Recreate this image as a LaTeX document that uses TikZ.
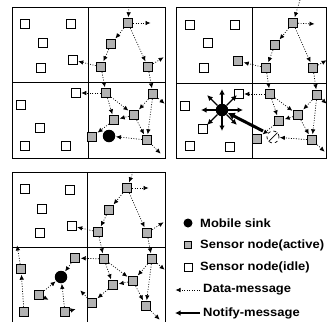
\documentclass[tikz,border=0pt]{standalone}
\usepackage{fontspec}
\setmainfont{Liberation Sans}
\usetikzlibrary{arrows.meta}
\begin{document}
\begin{tikzpicture}[x=1pt,y=-1pt,
  frame/.style={line width=1pt},
  idle/.style={draw,line width=1pt,fill=white,minimum size=8.5pt,inner sep=0pt},
  active/.style={draw,line width=1.4pt,fill=gray!60,minimum size=9pt,inner sep=0pt},
  sink/.style={circle,fill=black,minimum size=12.5pt,inner sep=0pt},
  oldsink/.style={circle,draw,dashed,line width=0.7pt,minimum size=12pt,inner sep=0pt},
  data/.style={line width=0.7pt,dash pattern=on 0.9pt off 1.6pt,-{Latex[length=5pt,width=4.5pt]},shorten >=0.5pt},
  notify/.style={line width=1.2pt,-{Latex[length=5.5pt,width=5.5pt]}},
  thicknotify/.style={line width=3pt,-{Latex[length=7pt,width=8pt]}},
  lab/.style={anchor=west,font=\fontsize{12}{14}\selectfont\bfseries,inner sep=0pt,xscale=1.08}]
\useasboundingbox (0,0) rectangle (327,322);

% ---------- Panel 1 ----------
\draw[frame] (12,7) rectangle (165,158);
\draw[frame] (88,7) -- (88,158);
\draw[frame] (12,82) -- (165,82);
\foreach \n/\p in {a1/{25,24},a2/{71,24},a3/{43,43},a4/{41,68},a5/{73,60},a6/{76,93},a7/{21,105},a8/{40,128},a9/{25,146},a10/{66,146}}
  \node[idle] (\n) at (\p) {};
\foreach \n/\p in {ab/{128,23},ac/{111,44},ad/{101,67},ae/{148,67},af/{106,93},ag/{153,94},ah/{114,120},ai/{134,115},aj/{92,137},ak/{147,140}}
  \node[active] (\n) at (\p) {};
\node[sink] (as) at (109,136) {};
\coordinate (at) at (129,7);
\coordinate (ar1) at (151,23);
\coordinate (ar2) at (164,57);
\coordinate (ar3) at (165,104);
\coordinate (ar4) at (161,154);
\draw[data] (at) -- (ab);
\draw[data] (ab) -- (ar1);
\draw[data] (ab) -- (ac);
\draw[data] (ab) -- (ae);
\draw[data] (ac) -- (ad);
\draw[data] (ad) -- (a5);
\draw[data] (ad) -- (af);
\draw[data] (ae) -- (ag);
\draw[data] (ae) -- (ar2);
\draw[data] (af) -- (a6);
\draw[data] (af) -- (ah);
\draw[data] (af) -- (ai);
\draw[data] (ag) -- (ai);
\draw[data] (ag) -- (ak);
\draw[data] (ag) -- (ar3);
\draw[data] (ai) -- (ah);
\draw[data] (ai) -- (ak);
\draw[data] (ah) -- (aj);
\draw[data] (ak) -- (as);
\draw[data] (ak) -- (ar4);

% ---------- Panel 2 ----------
\draw[frame] (176,7) rectangle (326.5,158);
\draw[frame] (252,7) -- (252,158);
\draw[frame] (176,83) -- (326.5,83);
\foreach \n/\p in {b1/{190,25},b2/{235,25},b3/{208,43},b4/{204,68},b6/{239,94},b7/{185,106},b8/{203,129},b9/{190,146},b10/{230,147}}
  \node[idle] (\n) at (\p) {};
\foreach \n/\p in {bx/{238,61},bb/{293,23},bc/{275,45},bd/{266,68},be/{313,68},bf/{270,94},bg/{317,95},bh/{279,121},bi/{298,115},bj/{257,139},bk/{312,140}}
  \node[active] (\n) at (\p) {};
\node[sink] (bs) at (222,110) {};
\node[oldsink] (bo) at (273,137) {};
\draw[line width=0.7pt] (bo.north east) -- (bo.south west);
\coordinate (bt) at (300,0);
\coordinate (br1) at (315,24);
\coordinate (br2) at (327,60);
\coordinate (br3) at (327,104);
\coordinate (br4) at (325,152);
\draw[data] (bt) -- (bb);
\draw[data] (bb) -- (br1);
\draw[data] (bb) -- (bc);
\draw[data] (bb) -- (be);
\draw[data] (bc) -- (bd);
\draw[data] (bd) -- (bx);
\draw[data] (bd) -- (bf);
\draw[data] (be) -- (bg);
\draw[data] (be) -- (br2);
\draw[data] (bf) -- (b6);
\draw[data] (bf) -- (bh);
\draw[data] (bf) -- (bi);
\draw[data] (bg) -- (bi);
\draw[data] (bg) -- (bk);
\draw[data] (bg) -- (br3);
\draw[data] (bi) -- (bh);
\draw[data] (bi) -- (bk);
\draw[data] (bh) -- (bj);
\draw[data] (bk) -- (bo);
\draw[data] (bk) -- (br4);
\foreach \a in {0,45,90,135,180,225,270,315}
  \draw[notify] (bs) -- ++(\a:21);
\coordinate (bm) at (263,131);
\draw[thicknotify] (bm) -- (bs);

% ---------- Panel 3 ----------
\draw[frame] (12,172) -- (12,322) (165,172) -- (165,322) (12,172) -- (165,172);
\draw[frame] (87,172) -- (87,322);
\draw[frame] (12,247) -- (165,247);
\foreach \n/\p in {c1/{25,189},c2/{70,190},c3/{42,209},c4/{40,233},c5/{72,226}}
  \node[idle] (\n) at (\p) {};
\foreach \n/\p in {cb/{127,188},cc/{109,210},cd/{98,232},ce/{147,233},cf/{104,259},cg/{152,259},ci/{133,281},ch/{113,285},cj/{92,303},ck/{146,306},
  cfa/{75,258},cga/{21,269},cha/{39,295},cia/{24,312},cja/{65,312}}
  \node[active] (\n) at (\p) {};
\node[sink] (cs) at (61,277) {};
\coordinate (ct) at (133,172);
\coordinate (cr1) at (149,188);
\coordinate (cr2) at (164,222);
\coordinate (cr3) at (165,270);
\coordinate (cr4) at (160,320);
\coordinate (cu) at (17,245);
\coordinate (cha2) at (49,300);
\coordinate (cja2) at (76,309);
\coordinate (cj2) at (80,290);
\draw[data] (ct) -- (cb);
\draw[data] (cb) -- (cr1);
\draw[data] (cb) -- (cc);
\draw[data] (cb) -- (ce);
\draw[data] (cc) -- (cd);
\draw[data] (cd) -- (c5);
\draw[data] (cd) -- (cf);
\draw[data] (ce) -- (cg);
\draw[data] (ce) -- (cr2);
\draw[data] (cf) -- (cfa);
\draw[data] (cf) -- (ch);
\draw[data] (cf) -- (ci);
\draw[data] (cg) -- (ci);
\draw[data] (cg) -- (ck);
\draw[data] (cg) -- (cr3);
\draw[data] (ci) -- (ch);
\draw[data] (ci) -- (ck);
\draw[data] (ch) -- (cj);
\draw[data] (ck) -- (cr4);
\draw[data] (cj) -- (cj2);
\draw[data] (cfa) -- (cs);
\draw[data] (cha) -- (cs);
\draw[data] (cja) -- (cs);
\draw[data] (cga) -- (cu);
\draw[data] (cia) -- (cga);
\draw[data] (cha) -- (cha2);
\draw[data] (cja) -- (cja2);

% ---------- Legend ----------
\node[sink,minimum size=9pt] (ls) at (188,223) {};
\node[lab] (lt1) at (200,223) {Mobile sink};
\node[active,minimum size=7.5pt,line width=1pt] (la) at (188,245) {};
\node[lab] (lt2) at (200,245) {Sensor node(active)};
\node[idle,minimum size=8pt] (li) at (188,267) {};
\node[lab] (lt3) at (200,267) {Sensor node(idle)};
\coordinate (ld1) at (200,290);
\coordinate (ld2) at (175,290);
\draw[data] (ld1) -- (ld2);
\node[lab] (lt4) at (203,290) {Data-message};
\coordinate (ln1) at (200,313);
\coordinate (ln2) at (175,313);
\draw[notify] (ln1) -- (ln2);
\node[lab] (lt5) at (203,313) {Notify-message};
\end{tikzpicture}
\end{document}
